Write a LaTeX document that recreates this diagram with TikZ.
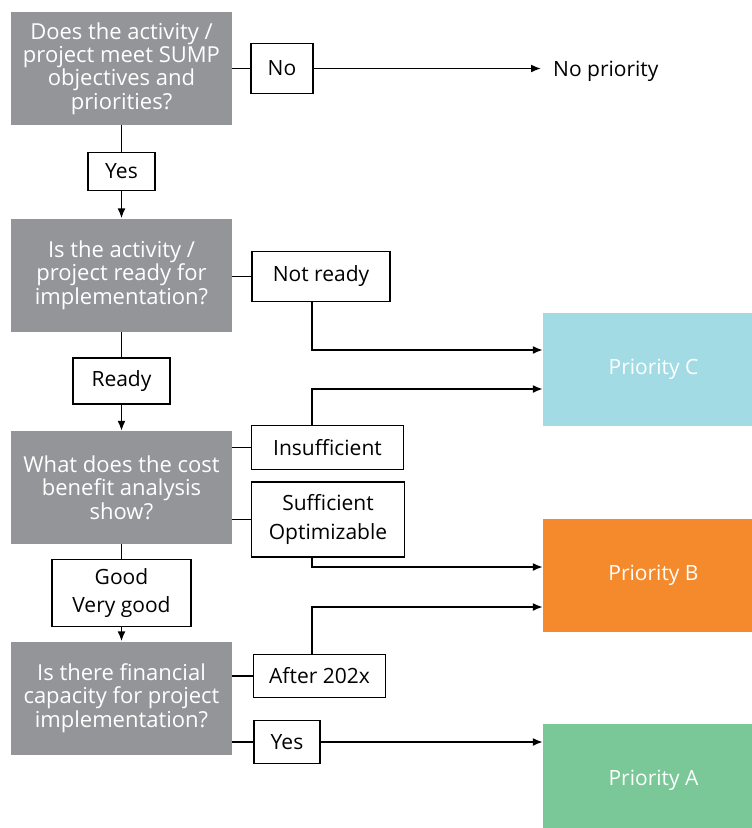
\documentclass[tikz,border=0pt]{standalone}
\usepackage{fontspec}
\setmainfont{Open Sans}
\usetikzlibrary{arrows.meta}
\definecolor{qgray}{RGB}{147,149,152}
\definecolor{prioC}{RGB}{163,219,229}
\definecolor{prioB}{RGB}{244,138,44}
\definecolor{prioA}{RGB}{122,199,151}

\begin{document}
\begin{tikzpicture}[x=1pt, y=-1pt,
    question/.style={fill=qgray, text=white, minimum width=221pt, minimum height=113pt,
        align=center, inner sep=0pt, font=\fontsize{22}{23.4}\selectfont},
    answer/.style={draw, line width=1.6pt, fill=white, align=center, inner sep=0pt,
        font=\fontsize{21}{28.5}\selectfont},
    priority/.style={text=white, minimum width=221pt, minimum height=113pt,
        font=\fontsize{21}{26}\selectfont},
    link/.style={line width=1.6pt},
    arrow/.style={link, -{Latex[length=10pt, width=8pt]}}]
    \useasboundingbox (0, 0) rectangle (752, 828);

    % Questions
    \node[question] (q1) at (121.5, 68.5) {Does the activity /\\project meet SUMP\\objectives and\\priorities?};
    \node[question] (q2) at (121.5, 275) {Is the activity /\\project ready for\\implementation?};
    \node[question] (q3) at (121.5, 487.5) {What does the cost\\benefit analysis\\show?};
    \node[question] (q4) at (121.5, 698) {Is there financial\\capacity for project\\implementation?};

    % Answers
    \node[answer, minimum width=62pt, minimum height=50pt] (no) at (282, 68.5) {No};
    \node[answer, minimum width=67pt, minimum height=38pt] (yes1) at (121.5, 171.5) {Yes};
    \node[answer, minimum width=138pt, minimum height=50pt] (notready) at (321, 276.5) {Not ready};
    \node[answer, minimum width=97pt, minimum height=46pt] (ready) at (121.5, 381) {Ready};
    \node[answer, minimum width=152pt, minimum height=44pt] (insuff) at (327.5, 447.5) {Insufficient};
    \node[answer, minimum width=153pt, minimum height=75pt] (suff) at (328, 519.5) {Sufficient\\Optimizable};
    \node[answer, minimum width=139pt, minimum height=67pt] (good) at (121.5, 593) {Good\\Very good};
    \node[answer, minimum width=132pt, minimum height=43pt] (after) at (319.5, 676) {After 202x};
    \node[answer, minimum width=66pt, minimum height=43pt] (yes2) at (287, 742) {Yes};

    % Priorities (cut by the right and bottom edge)
    \node[priority, fill=prioC] (pc) at (653.5, 369.5) {Priority C};
    \node[priority, fill=prioB] (pb) at (653.5, 575.5) {Priority B};
    \node[priority, fill=prioA] (pa) at (653.5, 780.5) {Priority A};
    \node[font=\fontsize{21}{26}\selectfont, anchor=base west, inner sep=0pt] (nopri) at (553, 76.5) {No priority};

    \coordinate (rail) at (312, 0);

    % Main column
    \draw[link] (q1) -- (yes1);
    \draw[arrow] (yes1) -- (q2);
    \draw[link] (q2) -- (ready);
    \draw[arrow] (ready) -- (q3);
    \draw[link] (q3) -- (good);
    \draw[arrow] (good) -- (q4);

    % Side branches
    \draw[link] (q1) -- (no);
    \draw[arrow] (no) -- ([xshift=-12pt]no -| nopri.west);
    \draw[link] (q2.east |- notready) -- (notready);
    \draw[arrow] (notready.south -| rail) |- ([yshift=19.5pt]pc.west);
    \draw[link] (q3.east |- insuff) -- (insuff);
    \draw[arrow] (insuff.north -| rail) |- ([yshift=-19.5pt]pc.west);
    \draw[link] (q3.east |- suff) -- (suff);
    \draw[arrow] (suff.south -| rail) |- ([yshift=8.5pt]pb.west);
    \draw[link] (q4.east |- after) -- (after);
    \draw[arrow] (after.north -| rail) |- ([yshift=-31.5pt]pb.west);
    \draw[link] (q4.east |- yes2) -- (yes2);
    \draw[arrow] (yes2) -- (yes2 -| pa.west);
\end{tikzpicture}
\end{document}
